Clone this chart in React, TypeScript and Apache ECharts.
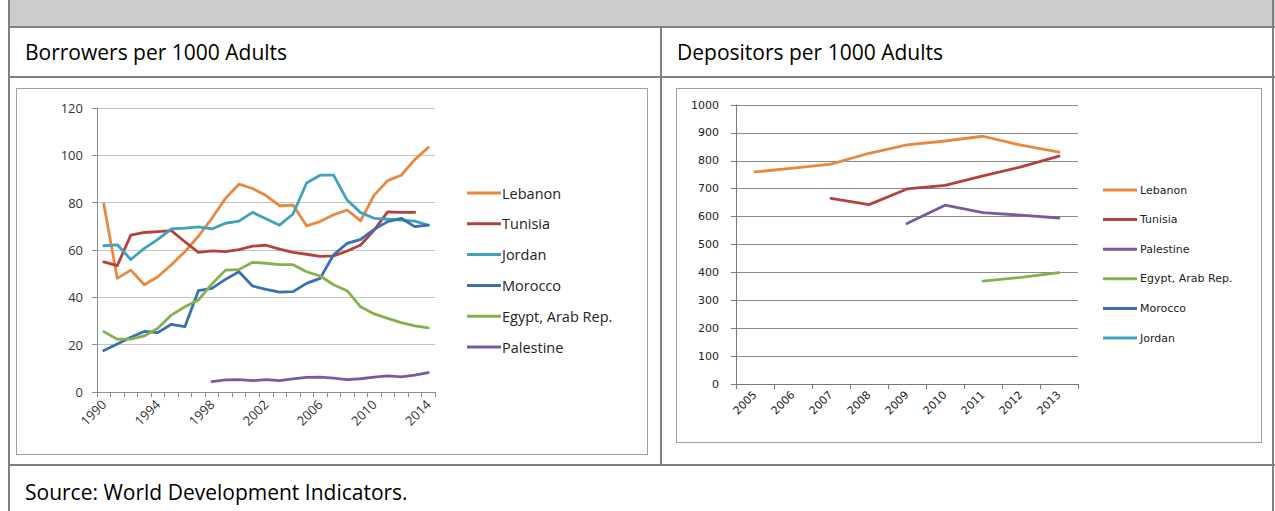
import React, { useEffect, useRef } from "react";
import * as echarts from "echarts";

// ---------- data ----------
const yearsL = ["1990","1991","1992","1993","1994","1995","1996","1997","1998","1999","2000","2001","2002","2003","2004","2005","2006","2007","2008","2009","2010","2011","2012","2013","2014"];
const lebanonL = [79.5, 48, 51.5, 45.3, 48.7, 53.8, 59.3, 65.8, 73.4, 81.8, 87.8, 86, 83, 78.7, 79, 70.2, 72, 74.9, 76.9, 72.3, 83.2, 89.3, 91.6, 98.2, 103.3];
const tunisiaL = [55, 53.4, 66.3, 67.4, 67.8, 68.2, 63.5, 59, 59.6, 59.3, 60.2, 61.6, 62, 60.4, 59, 58.2, 57.3, 57.5, 59.6, 62.1, 68.4, 76.1, 75.9, 75.9, null];
const jordanL = [61.8, 62.2, 56, 60.7, 64.5, 68.9, 69.2, 69.8, 68.9, 71.3, 72.2, 75.9, 73.2, 70.5, 75.2, 88.3, 91.6, 91.6, 81.1, 75.8, 73.4, 73, 72.6, 72.2, 70.5];
const moroccoL = [17.5, 20.3, 23.1, 25.6, 25.1, 28.6, 27.6, 42.8, 43.8, 47.6, 50.8, 44.8, 43.4, 42.2, 42.4, 45.9, 48, 58, 62.8, 64.5, 68.7, 72, 73.4, 69.9, 70.5];
const egyptL = [25.5, 22.3, 22.3, 23.7, 26.9, 32.5, 36, 38.9, 45.6, 51.5, 51.7, 54.8, 54.4, 53.8, 53.8, 50.8, 49, 45.3, 42.8, 36, 33, 31.1, 29.3, 27.9, 27.1];
const palestineL = [null, null, null, null, null, null, null, null, 4.4, 5.1, 5.2, 4.8, 5.2, 4.8, 5.5, 6.2, 6.3, 5.9, 5.2, 5.6, 6.3, 6.8, 6.4, 7.1, 8.2];

const yearsR = ["2005","2006","2007","2008","2009","2010","2011","2012","2013"];
const lebanonR = [760, 774, 788, 827, 857, 871, 888, 856, 831];
const tunisiaR = [null, null, 665, 643, 699, 712, 746, 778, 817];
const palestineR = [null, null, null, null, 575, 641, 614, 605, 595];
const egyptR = [null, null, null, null, null, null, 369, 382, 399];
const moroccoR = [null, null, null, null, null, null, null, null, null];
const jordanR = [null, null, null, null, null, null, null, null, null];

const yTicksL = { min: 0, max: 120, step: 20 };
const yTicksR = { min: 0, max: 1000, step: 100 };

const COLORS: Record<string, string> = {
  Lebanon: "#E9883D",
  Tunisia: "#B3413F",
  Jordan: "#3FA2BB",
  Morocco: "#3C6EB2",
  "Egypt, Arab Rep.": "#86B04B",
  Palestine: "#7A5A9F",
};

const seriesL: [string, (number | null)[]][] = [
  ["Lebanon", lebanonL],
  ["Tunisia", tunisiaL],
  ["Jordan", jordanL],
  ["Morocco", moroccoL],
  ["Egypt, Arab Rep.", egyptL],
  ["Palestine", palestineL],
];
const seriesR: [string, (number | null)[]][] = [
  ["Lebanon", lebanonR],
  ["Tunisia", tunisiaR],
  ["Palestine", palestineR],
  ["Egypt, Arab Rep.", egyptR],
  ["Morocco", moroccoR],
  ["Jordan", jordanR],
];

const SANS = '"Open Sans", "Noto Sans", sans-serif';
const VERD = '"DejaVu Sans", Verdana, sans-serif';

function mkSeries(list: [string, (number | null)[]][], w: number) {
  return list.map(([name, data]) => ({
    name,
    type: "line",
    data,
    showSymbol: false,
    symbol: "none",
    connectNulls: false,
    color: COLORS[name],
    lineStyle: { width: w, color: COLORS[name], join: "round", cap: "round" },
  }));
}

function leftOption(): any {
  return {
    animation: false,
    grid: { left: 81, top: 20, width: 338, height: 284, containLabel: false },
    xAxis: {
      type: "category",
      data: yearsL,
      boundaryGap: true,
      axisLine: { show: true, lineStyle: { color: "#8c8c8c", width: 1 } },
      axisTick: { show: true, interval: 0, length: 5, lineStyle: { color: "#8c8c8c" } },
      axisLabel: { interval: 3, rotate: 45, fontSize: 13, color: "#333", fontFamily: SANS, margin: 10 },
      splitLine: { show: false },
    },
    yAxis: {
      type: "value",
      min: yTicksL.min,
      max: yTicksL.max,
      interval: yTicksL.step,
      axisLine: { show: true, lineStyle: { color: "#8c8c8c", width: 1 } },
      axisTick: { show: true, length: 5, lineStyle: { color: "#8c8c8c" } },
      axisLabel: { fontSize: 13, color: "#333", fontFamily: SANS, margin: 14 },
      splitLine: { show: true, lineStyle: { color: "#c4c4c4", width: 1.2 } },
    },
    legend: {
      orient: "vertical",
      left: 446,
      top: 92,
      icon: "rect",
      itemWidth: 34,
      itemHeight: 3,
      itemGap: 14.8,
      selectedMode: false,
      data: seriesL.map((s) => s[0]),
      textStyle: { fontSize: 14.5, color: "#222", fontFamily: SANS, lineHeight: 16, padding: [0, 0, 0, -4] },
    },
    series: mkSeries(seriesL, 2.8),
  };
}

function rightOption(): any {
  return {
    animation: false,
    grid: { left: 60, top: 17, width: 342, height: 279, containLabel: false },
    xAxis: {
      type: "category",
      data: yearsR,
      boundaryGap: true,
      axisLine: { show: true, lineStyle: { color: "#7a7a7a", width: 1 } },
      axisTick: { show: true, interval: 0, length: 5, lineStyle: { color: "#7a7a7a" } },
      axisLabel: { interval: 0, rotate: 45, fontSize: 11, color: "#222", fontFamily: VERD, margin: 9 },
      splitLine: { show: false },
    },
    yAxis: {
      type: "value",
      min: yTicksR.min,
      max: yTicksR.max,
      interval: yTicksR.step,
      axisLine: { show: true, lineStyle: { color: "#7a7a7a", width: 1 } },
      axisTick: { show: true, length: 5, lineStyle: { color: "#7a7a7a" } },
      axisLabel: { fontSize: 11, color: "#222", fontFamily: VERD, margin: 17, formatter: (v: number) => String(v) },
      splitLine: { show: true, lineStyle: { color: "#8a8a8a", width: 1 } },
    },
    legend: {
      orient: "vertical",
      left: 422,
      top: 90,
      icon: "rect",
      itemWidth: 34,
      itemHeight: 3,
      itemGap: 15.6,
      selectedMode: false,
      data: seriesR.map((s) => s[0]),
      textStyle: { fontSize: 11, color: "#222", fontFamily: VERD, lineHeight: 14, padding: [0, 0, 0, -2] },
    },
    series: mkSeries(seriesR, 2.8),
  };
}

function Chart({ option, width, height }: { option: any; width: number; height: number }) {
  const ref = useRef<HTMLDivElement>(null);
  useEffect(() => {
    if (!ref.current) return;
    const chart = echarts.init(ref.current, undefined, { renderer: "svg" });
    chart.setOption(option);
    return () => chart.dispose();
  }, []);
  return <div ref={ref} style={{ width, height }} />;
}

const LINE = "#808080";

export default function App() {
  const abs = (l: number, t: number, w: number, h: number, extra: any = {}) => ({
    position: "absolute" as const,
    left: l,
    top: t,
    width: w,
    height: h,
    ...extra,
  });
  const textStyle = { fontFamily: SANS, fontSize: 21, color: "#000", whiteSpace: "nowrap" as const, lineHeight: "26px" };
  return (
    <div style={{ position: "fixed", left: 0, top: 0, width: 1275, height: 511, background: "#fff", overflow: "hidden" }}>
      {/* header band */}
      <div style={abs(10, 0, 1265, 27, { background: "#cccccc" })} />
      {/* table lines */}
      <div style={abs(8, 0, 2, 511, { background: LINE })} />
      <div style={abs(1272, 0, 2, 511, { background: LINE })} />
      <div style={abs(8, 26, 1267, 2, { background: LINE })} />
      <div style={abs(8, 76, 1267, 2, { background: LINE })} />
      <div style={abs(8, 464, 1267, 2, { background: LINE })} />
      <div style={abs(660, 26, 2, 440, { background: LINE })} />

      {/* cell titles */}
      <div style={abs(25, 39, 400, 26, textStyle)}>Borrowers per 1000 Adults</div>
      <div style={abs(677, 39, 400, 26, textStyle)}>Depositors per 1000 Adults</div>
      <div style={abs(25, 479, 600, 26, textStyle)}>Source: World Development Indicators.</div>

      {/* left chart box */}
      <div style={abs(16, 88, 632, 367, { border: "1px solid #a0a0a0", boxSizing: "border-box" })}>
        <div style={{ position: "absolute", left: -1, top: -1 }}>
          <Chart option={leftOption()} width={632} height={367} />
        </div>
      </div>

      {/* right chart box */}
      <div style={abs(676, 88, 586, 355, { border: "1px solid #a0a0a0", boxSizing: "border-box" })}>
        <div style={{ position: "absolute", left: -1, top: -1 }}>
          <Chart option={rightOption()} width={586} height={355} />
        </div>
      </div>
    </div>
  );
}
